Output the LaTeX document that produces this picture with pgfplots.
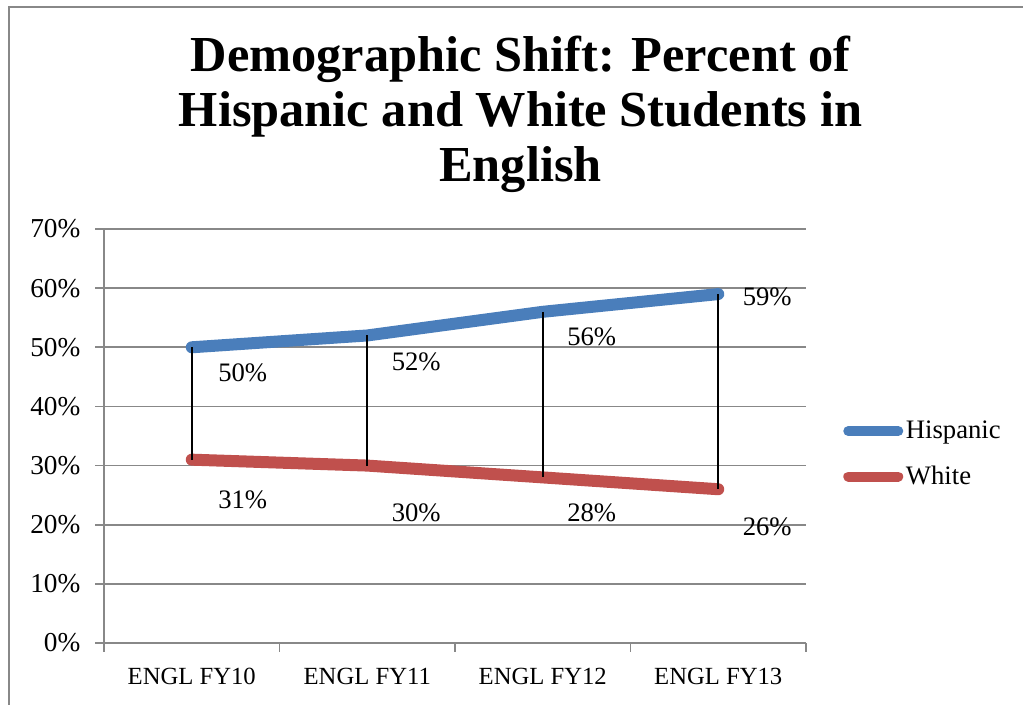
\documentclass[border=0pt]{standalone}
\usepackage{pgfplots}
\pgfplotsset{compat=1.18}
\usepackage{fontspec}
\setmainfont{Liberation Serif}
\definecolor{hisp}{RGB}{74,126,187}
\definecolor{whit}{RGB}{192,80,77}
\definecolor{gridg}{RGB}{136,136,136}

\pgfplotsset{lbl/.style n args={3}{draw=none, mark=none, forget plot,
  nodes near coords={#3\%},
  every node near coord/.append style={font=\fontsize{20}{24}\selectfont, anchor=center, inner sep=0pt,
     xshift=#1, yshift=#2, text=black}}}

\begin{document}
\begin{tikzpicture}
\useasboundingbox (0,0) rectangle (767.25pt,-528.75pt);
\draw[gridg, line width=1.5pt] (7pt,-528.75pt) -- (7pt,-5.5pt) -- (767.25pt,-5.5pt);
\node[anchor=north, align=center, inner sep=0pt,
      font=\bfseries\fontsize{37.8}{41}\selectfont]
  at (390.4pt,-27pt) {Demographic Shift: Percent of\\Hispanic and White Students in\\English};
\begin{axis}[
  at={(78pt,-482.25pt)}, anchor=south west,
  scale only axis, width=526.5pt, height=310.5pt,
  xmin=-0.5, xmax=3.5, ymin=0, ymax=70,
  axis x line*=bottom, axis y line*=left,
  axis line style={gridg, line width=1.2pt, -},
  xtick={-0.5,0.5,1.5,2.5,3.5},
  xticklabels={ENGL FY10,ENGL FY11,ENGL FY12,ENGL FY13},
  x tick label as interval,
  ytick={0,10,...,70},
  yticklabels={0\%,10\%,20\%,30\%,40\%,50\%,60\%,70\%},
  tick align=outside,
  major tick length=6.5pt,
  tick style={gridg, line width=1.2pt},
  ymajorgrids,
  grid style={gridg, line width=1.2pt},
  yticklabel style={font=\fontsize{20.5}{24}\selectfont, anchor=east, inner sep=0pt, xshift=-11pt},
  xticklabel style={font=\fontsize{18.5}{22}\selectfont, anchor=north, inner sep=0pt, yshift=-12pt},
  legend style={draw=none, fill=none, at={(1.0527,0.4565)}, anchor=west,
    font=\fontsize{20}{24}\selectfont, inner xsep=0pt, row sep=15pt,
    legend cell align=left},
  legend image code/.code={\draw[#1, line width=7.5pt, line cap=round] (3.75pt,0pt) -- (41.25pt,0pt);},
  clip=false,
]
\addplot[hisp, line width=9pt, line cap=round, line join=round, mark=none] coordinates {(0,50) (1,52) (2,56) (3,59)};
\addlegendentry{Hispanic}
\addplot[whit, line width=9pt, line cap=round, line join=round, mark=none] coordinates {(0,31) (1,30) (2,28) (3,26)};
\addlegendentry{White}
\addplot[black, line width=1.3pt, forget plot] coordinates {(0,50) (0,31)};
\addplot[black, line width=1.3pt, forget plot] coordinates {(1,52) (1,30)};
\addplot[black, line width=1.3pt, forget plot] coordinates {(2,56) (2,28)};
\addplot[black, line width=1.3pt, forget plot] coordinates {(3,59) (3,26)};
% data labels
\addplot[lbl={38.25pt}{-19.5pt}{50}] coordinates {(0,50)};
\addplot[lbl={36.75pt}{-19.9pt}{52}] coordinates {(1,52)};
\addplot[lbl={36.75pt}{-18.75pt}{56}] coordinates {(2,56)};
\addplot[lbl={36.75pt}{-2.25pt}{59}] coordinates {(3,59)};
\addplot[lbl={38.25pt}{-30pt}{31}] coordinates {(0,31)};
\addplot[lbl={36.75pt}{-35.5pt}{30}] coordinates {(1,30)};
\addplot[lbl={36.75pt}{-26.25pt}{28}] coordinates {(2,28)};
\addplot[lbl={36.75pt}{-28.5pt}{26}] coordinates {(3,26)};
\end{axis}
\end{tikzpicture}
\end{document}
